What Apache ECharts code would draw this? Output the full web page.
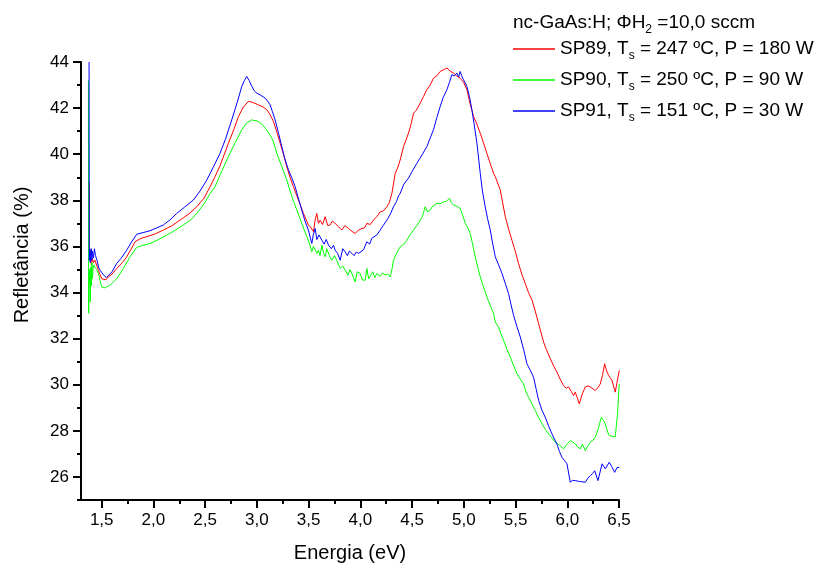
<!DOCTYPE html>
<html>
<head>
<meta charset="utf-8">
<script src="https://cdn.jsdelivr.net/npm/echarts@6/dist/echarts.min.js"></script>
<style>html,body{margin:0;padding:0;background:#fff}#c{width:820px;height:567px}</style>
</head>
<body>
<div id="c"></div>
<script>
// ---- data ----
const seriesNames = ['SP89', 'SP90', 'SP91'];
const temps = [247, 250, 151];
const powers = [180, 90, 30];
const xMajorTicks = [1.5, 2.0, 2.5, 3.0, 3.5, 4.0, 4.5, 5.0, 5.5, 6.0, 6.5];
const xMinorTicks = [1.75, 2.25, 2.75, 3.25, 3.75, 4.25, 4.75, 5.25, 5.75, 6.25];
const yMajorTicks = [26, 28, 30, 32, 34, 36, 38, 40, 42, 44];
const yMinorTicks = [25, 27, 29, 31, 33, 35, 37, 39, 41, 43];

const sp89 = [[1.375,37.5],[1.377,38.8],[1.38,36.0],[1.39,35.6],[1.40,35.2],[1.41,35.5],[1.42,35.3],[1.435,35.4],[1.468,34.97],[1.50,34.6],[1.516,34.53],[1.54,34.55],[1.564,34.68],[1.60,34.8],[1.645,35.04],[1.70,35.3],[1.742,35.55],[1.78,35.85],[1.822,36.2],[1.88,36.35],[1.935,36.42],[2.02,36.55],[2.096,36.71],[2.18,36.9],[2.257,37.14],[2.34,37.4],[2.419,37.72],[2.49,38.1],[2.548,38.59],[2.596,39.03],[2.644,39.5],[2.725,40.48],[2.78,41.1],[2.822,41.64],[2.87,42.05],[2.918,42.29],[2.96,42.25],[3.015,42.14],[3.06,42.05],[3.096,41.93],[3.13,41.7],[3.16,41.42],[3.19,41.0],[3.225,40.48],[3.26,39.95],[3.289,39.46],[3.32,39.0],[3.353,38.59],[3.402,38.01],[3.45,37.43],[3.498,36.93],[3.525,36.8],[3.547,36.64],[3.565,37.2],[3.579,37.43],[3.595,37.0],[3.611,37.14],[3.635,36.95],[3.66,37.29],[3.685,36.9],[3.708,36.93],[3.73,37.1],[3.756,37.0],[3.79,36.85],[3.821,36.71],[3.85,36.9],[3.885,36.78],[3.92,36.65],[3.95,36.56],[3.98,36.7],[4.015,36.78],[4.04,36.8],[4.063,37.0],[4.095,36.95],[4.127,37.14],[4.16,37.3],[4.192,37.5],[4.225,37.55],[4.256,37.72],[4.28,37.9],[4.305,38.3],[4.337,39.17],[4.36,39.4],[4.385,39.75],[4.417,40.33],[4.44,40.6],[4.465,40.91],[4.49,41.3],[4.514,41.78],[4.54,41.9],[4.579,42.22],[4.61,42.5],[4.643,42.8],[4.675,43.0],[4.707,43.3],[4.74,43.4],[4.772,43.59],[4.80,43.65],[4.837,43.74],[4.87,43.6],[4.901,43.52],[4.93,43.4],[4.965,43.3],[5.00,43.1],[5.03,42.8],[5.06,42.2],[5.094,41.64],[5.127,41.3],[5.159,40.91],[5.19,40.5],[5.223,40.04],[5.255,39.6],[5.288,39.17],[5.304,39.03],[5.352,38.45],[5.401,37.29],[5.43,36.8],[5.465,36.27],[5.50,35.75],[5.529,35.26],[5.56,34.8],[5.594,34.39],[5.625,34.0],[5.659,33.67],[5.69,33.2],[5.723,32.65],[5.771,31.85],[5.80,31.5],[5.836,31.13],[5.87,30.8],[5.9,30.55],[5.93,30.25],[5.964,29.97],[5.99,29.85],[6.013,29.9],[6.04,29.7],[6.061,29.53],[6.077,29.68],[6.095,29.45],[6.116,29.17],[6.145,29.6],[6.174,29.9],[6.20,29.95],[6.223,29.9],[6.271,29.75],[6.30,29.9],[6.319,30.04],[6.34,30.4],[6.361,30.91],[6.38,30.6],[6.40,30.4],[6.432,30.19],[6.464,29.68],[6.485,30.2],[6.503,30.62]];

const sp90 = [[1.372,43.2],[1.374,33.1],[1.378,34.2],[1.385,35.0],[1.39,33.6],[1.395,35.1],[1.40,34.3],[1.405,35.3],[1.41,34.6],[1.42,35.2],[1.435,35.26],[1.45,35.0],[1.468,34.83],[1.5,34.24],[1.525,34.2],[1.548,34.24],[1.575,34.3],[1.597,34.39],[1.645,34.6],[1.709,35.04],[1.774,35.55],[1.839,35.96],[1.90,36.05],[1.967,36.13],[2.05,36.3],[2.129,36.49],[2.21,36.7],[2.289,36.93],[2.36,37.15],[2.419,37.43],[2.49,37.85],[2.548,38.3],[2.596,38.59],[2.644,39.1],[2.725,39.9],[2.79,40.5],[2.854,41.06],[2.90,41.35],[2.951,41.49],[3.015,41.42],[3.05,41.3],[3.08,41.13],[3.11,40.95],[3.144,40.7],[3.17,40.4],[3.192,40.04],[3.241,39.46],[3.289,38.88],[3.338,38.16],[3.386,37.58],[3.434,37.0],[3.483,36.42],[3.51,36.1],[3.531,35.77],[3.547,36.0],[3.563,36.06],[3.58,35.7],[3.595,35.84],[3.61,35.6],[3.628,36.06],[3.645,35.7],[3.66,35.55],[3.675,35.9],[3.692,35.84],[3.71,35.5],[3.724,35.4],[3.75,35.6],[3.772,35.4],[3.79,35.2],[3.805,35.04],[3.83,35.15],[3.853,34.97],[3.88,34.75],[3.90,35.0],[3.918,34.83],[3.935,34.9],[3.95,34.46],[3.97,34.9],[3.998,34.83],[4.02,34.55],[4.047,34.53],[4.063,35.04],[4.08,34.6],[4.095,34.6],[4.12,34.9],[4.14,34.65],[4.16,34.83],[4.19,34.7],[4.215,34.85],[4.24,34.76],[4.265,34.8],[4.288,34.68],[4.305,35.0],[4.32,35.4],[4.35,35.7],[4.385,35.98],[4.42,36.1],[4.45,36.27],[4.48,36.5],[4.514,36.71],[4.545,36.9],[4.579,37.14],[4.60,37.3],[4.627,37.72],[4.65,37.5],[4.675,37.58],[4.70,37.75],[4.74,37.87],[4.77,37.85],[4.804,37.94],[4.83,37.95],[4.862,38.09],[4.88,37.9],[4.901,37.8],[4.93,37.75],[4.965,37.65],[4.99,37.35],[5.014,37.0],[5.04,36.8],[5.062,36.56],[5.085,36.1],[5.11,35.55],[5.135,35.1],[5.159,34.68],[5.19,34.25],[5.223,33.81],[5.255,33.45],[5.288,33.09],[5.304,32.72],[5.336,32.5],[5.36,32.2],[5.384,31.93],[5.415,31.55],[5.449,31.2],[5.48,30.85],[5.514,30.48],[5.545,30.25],[5.578,30.04],[5.60,29.7],[5.626,29.46],[5.66,29.15],[5.691,28.88],[5.72,28.6],[5.756,28.3],[5.79,28.05],[5.82,27.87],[5.85,27.7],[5.884,27.5],[5.92,27.4],[5.964,27.22],[5.995,27.4],[6.029,27.58],[6.055,27.5],[6.078,27.43],[6.10,27.3],[6.126,27.22],[6.146,27.43],[6.174,27.14],[6.20,27.35],[6.223,27.5],[6.25,27.6],[6.271,27.72],[6.30,28.1],[6.329,28.59],[6.35,28.45],[6.368,28.3],[6.39,27.95],[6.406,27.8],[6.44,27.75],[6.464,27.75],[6.485,28.7],[6.503,30.04]];

const sp91 = [[1.378,44.0],[1.38,35.4],[1.385,35.9],[1.39,35.3],[1.394,35.7],[1.40,35.9],[1.405,35.4],[1.41,35.8],[1.42,35.5],[1.43,35.9],[1.44,35.6],[1.455,35.4],[1.47,35.1],[1.484,34.97],[1.52,34.75],[1.545,34.65],[1.564,34.64],[1.60,34.9],[1.645,35.26],[1.69,35.5],[1.742,35.84],[1.79,36.2],[1.839,36.53],[1.90,36.6],[1.967,36.68],[2.03,36.8],[2.096,36.93],[2.16,37.15],[2.225,37.43],[2.30,37.7],[2.386,38.01],[2.45,38.4],[2.516,38.88],[2.58,39.45],[2.644,40.04],[2.70,40.7],[2.757,41.49],[2.81,42.25],[2.854,42.94],[2.88,43.2],[2.902,43.37],[2.925,43.2],[2.951,42.94],[2.975,42.75],[2.999,42.65],[3.04,42.55],[3.08,42.43],[3.105,42.3],[3.128,42.14],[3.15,41.85],[3.176,41.49],[3.21,40.9],[3.241,40.33],[3.27,39.8],[3.305,39.32],[3.34,38.95],[3.37,38.59],[3.40,38.1],[3.434,37.58],[3.465,37.1],[3.498,36.71],[3.515,36.4],[3.531,36.13],[3.545,36.5],[3.563,36.78],[3.58,36.3],[3.60,36.5],[3.628,36.27],[3.65,36.1],[3.67,36.3],[3.692,36.06],[3.72,35.9],[3.74,36.05],[3.756,35.84],[3.78,35.7],[3.805,35.40],[3.83,35.9],[3.853,35.77],[3.875,35.6],[3.895,35.8],[3.918,35.7],[3.94,35.6],[3.96,35.75],[3.982,35.7],[4.00,35.75],[4.03,35.85],[4.047,35.91],[4.063,36.2],[4.09,36.1],[4.11,36.35],[4.127,36.27],[4.16,36.5],[4.192,36.71],[4.22,36.9],[4.256,37.14],[4.29,37.4],[4.32,37.72],[4.35,37.95],[4.37,38.2],[4.385,38.3],[4.42,38.7],[4.465,38.96],[4.50,39.25],[4.547,39.61],[4.60,40.0],[4.643,40.33],[4.675,40.7],[4.707,41.06],[4.74,41.6],[4.772,42.07],[4.80,42.45],[4.837,42.8],[4.86,43.1],[4.885,43.45],[4.91,43.4],[4.933,43.52],[4.95,43.35],[4.965,43.59],[4.98,43.4],[4.997,43.23],[5.03,42.94],[5.055,42.5],[5.078,41.93],[5.10,41.3],[5.127,40.48],[5.159,39.17],[5.18,38.4],[5.207,37.72],[5.23,37.2],[5.256,36.71],[5.28,36.1],[5.304,35.55],[5.336,35.2],[5.369,34.83],[5.40,34.4],[5.432,33.96],[5.455,33.5],[5.481,33.01],[5.515,32.5],[5.546,32.07],[5.58,31.5],[5.61,30.91],[5.64,30.65],[5.674,30.33],[5.70,29.8],[5.723,29.32],[5.755,28.9],[5.787,28.59],[5.82,28.2],[5.852,27.87],[5.875,27.65],[5.9,27.43],[5.925,27.1],[5.949,26.85],[5.975,26.7],[5.997,26.57],[6.029,25.77],[6.05,25.85],[6.078,25.84],[6.12,25.8],[6.174,25.77],[6.20,25.95],[6.223,26.06],[6.245,26.15],[6.265,26.27],[6.297,25.84],[6.336,26.57],[6.368,26.35],[6.406,26.64],[6.43,26.45],[6.458,26.2],[6.48,26.4],[6.503,26.42]];

const seriesData = [sp89, sp90, sp91];
const seriesColors = ['#ff0000', '#00ff00', '#0000ff'];

// ---- chart ----
const FONT = '"Liberation Sans", Arial, Helvetica, sans-serif';
const chart = echarts.init(document.getElementById('c'), null, {renderer: 'canvas'});
const axisLineStyle = {color: '#000', width: 2};
const fmtX = v => v.toFixed(1).replace('.', ',');

const option = {
  animation: false,
  backgroundColor: '#fff',
  grid: {left: 81, right: 201, top: 62, bottom: 67, containLabel: false},
  title: {
    left: 508, top: 6,
    text: '{a|nc-GaAs:H; \u03A6H}{b|2}{a| =10,0 sccm}',
    textStyle: {
      fontWeight: 'normal',
      rich: {
        a: {fontSize: 19, fontFamily: FONT, fontWeight: 'normal', color: '#000', lineHeight: 24},
        b: {fontSize: 12, fontFamily: FONT, fontWeight: 'normal', color: '#000', padding: [14, 0, 0, 0], lineHeight: 24}
      }
    }
  },
  legend: {
    orient: 'vertical',
    left: 508, top: 31,
    itemWidth: 42, itemHeight: 1.5, itemGap: 5,
    icon: 'rect',
    data: seriesNames,
    formatter: function (name) {
      const i = seriesNames.indexOf(name);
      return '{n|' + name + ', T}{s|s}{n| = ' + temps[i] + ' \u00BAC, P = ' + powers[i] + ' W}';
    },
    textStyle: {
      padding: [0, 0, 0, 0],
      rich: {
        n: {fontSize: 19, fontFamily: FONT, color: '#000', lineHeight: 22},
        s: {fontSize: 12, fontFamily: FONT, color: '#000', padding: [14, 0, 0, 0], lineHeight: 22}
      }
    }
  },
  xAxis: [
    {
      type: 'value', min: 1.3, max: 6.5, position: 'bottom',
      axisLine: {show: true, onZero: false, lineStyle: axisLineStyle},
      axisTick: {show: true, length: 8, lineStyle: {color: '#000', width: 2}, customValues: xMajorTicks},
      axisLabel: {show: true, margin: 12, fontSize: 17, fontFamily: FONT, color: '#000', customValues: xMajorTicks, formatter: fmtX},
      splitLine: {show: false}
    },
    {
      type: 'value', min: 1.3, max: 6.5, position: 'bottom',
      axisLine: {show: false, onZero: false},
      axisTick: {show: true, length: 4, lineStyle: {color: '#000', width: 2}, customValues: xMinorTicks},
      axisLabel: {show: false},
      splitLine: {show: false}
    }
  ],
  yAxis: [
    {
      type: 'value', min: 25, max: 44, position: 'left',
      axisLine: {show: true, onZero: false, lineStyle: axisLineStyle},
      axisTick: {show: true, length: 8, lineStyle: {color: '#000', width: 2}, customValues: yMajorTicks},
      axisLabel: {show: true, margin: 12, fontSize: 17, fontFamily: FONT, color: '#000', customValues: yMajorTicks},
      splitLine: {show: false}
    },
    {
      type: 'value', min: 25, max: 44, position: 'left',
      axisLine: {show: false, onZero: false},
      axisTick: {show: true, length: 4, lineStyle: {color: '#000', width: 2}, customValues: yMinorTicks},
      axisLabel: {show: false},
      splitLine: {show: false}
    }
  ],
  graphic: [
    {type: 'text', x: 350, y: 553, silent: true,
     style: {text: 'Energia (eV)', fontSize: 20, fontFamily: FONT, fill: '#000', align: 'center', verticalAlign: 'middle'}},
    {type: 'text', x: 22, y: 255, rotation: Math.PI / 2, silent: true,
     style: {text: 'Refletância (%)', fontSize: 20, fontFamily: FONT, fill: '#000', align: 'center', verticalAlign: 'middle'}}
  ],
  series: seriesNames.map((name, i) => ({
    name: name,
    type: 'line',
    xAxisIndex: 0, yAxisIndex: 0,
    data: seriesData[i],
    showSymbol: false, symbol: 'none',
    lineStyle: {color: seriesColors[i], width: 1},
    itemStyle: {color: seriesColors[i]},
    z: 2 + i
  }))
};
chart.setOption(option);
</script>
</body>
</html>
